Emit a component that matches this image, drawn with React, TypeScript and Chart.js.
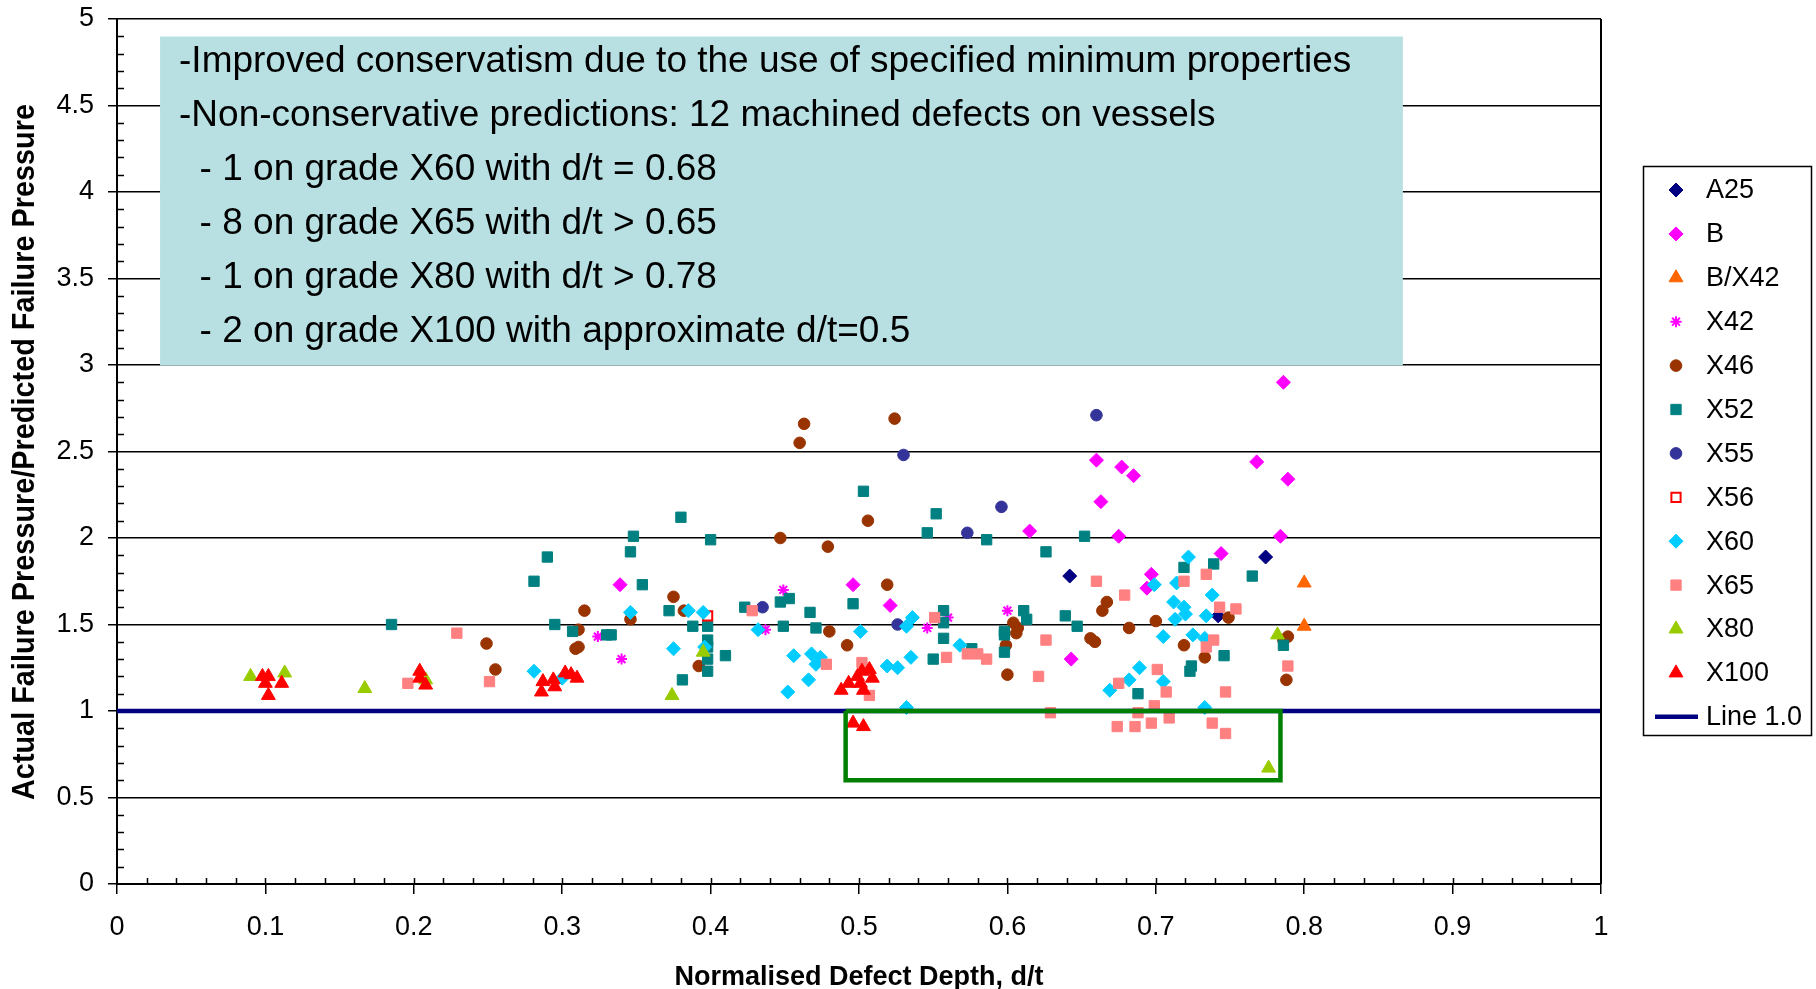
import React, { useEffect, useRef } from 'react';
import { Chart, registerables } from 'chart.js';
import { drawPoint } from 'chart.js/helpers';

Chart.register(...registerables);

const FONT = '"Liberation Sans", Arial, Helvetica, sans-serif';

// ---------- data ----------
const A25: number[][] = [[0.642, 1.78], [0.742, 1.55], [0.774, 1.89]];
const B: number[][] = [
  [0.786, 2.9], [0.66, 2.45], [0.677, 2.41], [0.685, 2.36], [0.768, 2.44], [0.789, 2.34], [0.663, 2.21],
  [0.675, 2.01], [0.784, 2.01], [0.615, 2.04], [0.744, 1.91], [0.697, 1.79], [0.694, 1.71], [0.643, 1.3],
  [0.496, 1.73], [0.521, 1.61], [0.339, 1.73],
];
const B_X42: number[][] = [[0.8, 1.74], [0.8, 1.49]];
const X42: number[][] = [[0.34, 1.3], [0.324, 1.43], [0.437, 1.47], [0.449, 1.7], [0.546, 1.48], [0.56, 1.54], [0.6, 1.58]];
const X46: number[][] = [
  [0.463, 2.66], [0.46, 2.55], [0.524, 2.69], [0.506, 2.1], [0.447, 2.0], [0.479, 1.95], [0.519, 1.73], [0.48, 1.46],
  [0.492, 1.38], [0.249, 1.39], [0.255, 1.24], [0.315, 1.58], [0.375, 1.66], [0.311, 1.47], [0.309, 1.36], [0.311, 1.37],
  [0.346, 1.53], [0.382, 1.58], [0.392, 1.26], [0.604, 1.51], [0.607, 1.48], [0.599, 1.38], [0.6, 1.21], [0.606, 1.45],
  [0.667, 1.63], [0.664, 1.58], [0.656, 1.42], [0.659, 1.4], [0.682, 1.48], [0.7, 1.52], [0.719, 1.38], [0.733, 1.31],
  [0.749, 1.54], [0.789, 1.43], [0.786, 1.41], [0.788, 1.18],
];
const X52: number[][] = [
  [0.185, 1.5], [0.38, 2.12], [0.348, 2.01], [0.4, 1.99], [0.29, 1.89], [0.346, 1.92], [0.281, 1.75], [0.354, 1.73],
  [0.372, 1.58], [0.423, 1.6], [0.447, 1.63], [0.453, 1.65], [0.295, 1.5], [0.307, 1.46], [0.33, 1.44], [0.333, 1.44],
  [0.388, 1.49], [0.398, 1.49], [0.398, 1.41], [0.398, 1.37], [0.398, 1.3], [0.398, 1.23], [0.41, 1.32], [0.381, 1.18],
  [0.449, 1.49], [0.503, 2.27], [0.552, 2.14], [0.546, 2.03], [0.586, 1.99], [0.626, 1.92], [0.467, 1.57], [0.496, 1.62],
  [0.471, 1.48], [0.557, 1.58], [0.557, 1.51], [0.557, 1.42], [0.576, 1.36], [0.55, 1.3], [0.611, 1.58], [0.613, 1.53],
  [0.598, 1.46], [0.598, 1.44], [0.598, 1.34], [0.652, 2.01], [0.719, 1.83], [0.739, 1.85], [0.765, 1.78], [0.639, 1.55],
  [0.647, 1.49], [0.746, 1.32], [0.724, 1.26], [0.723, 1.23], [0.688, 1.1], [0.786, 1.38],
];
const X55: number[][] = [[0.66, 2.71], [0.53, 2.48], [0.596, 2.18], [0.573, 2.03], [0.435, 1.6], [0.526, 1.5]];
const X56: number[][] = [[0.398, 1.55]];
const X60: number[][] = [
  [0.281, 1.23], [0.3, 1.19], [0.346, 1.57], [0.385, 1.58], [0.395, 1.57], [0.375, 1.36], [0.396, 1.37], [0.432, 1.47],
  [0.456, 1.32], [0.452, 1.11], [0.468, 1.33], [0.471, 1.27], [0.474, 1.31], [0.466, 1.18], [0.501, 1.46], [0.519, 1.26],
  [0.526, 1.25], [0.535, 1.31], [0.532, 1.49], [0.536, 1.54], [0.568, 1.38], [0.532, 1.02], [0.722, 1.89], [0.699, 1.73],
  [0.714, 1.74], [0.738, 1.67], [0.712, 1.63], [0.719, 1.6], [0.72, 1.56], [0.713, 1.53], [0.734, 1.55], [0.705, 1.43],
  [0.725, 1.44], [0.733, 1.42], [0.689, 1.25], [0.682, 1.18], [0.669, 1.12], [0.705, 1.17], [0.733, 1.02],
];
const X65: number[][] = [
  [0.229, 1.45], [0.196, 1.16], [0.251, 1.17], [0.428, 1.58], [0.478, 1.27], [0.502, 1.28], [0.507, 1.09], [0.551, 1.54],
  [0.559, 1.31], [0.573, 1.33], [0.58, 1.33], [0.586, 1.3], [0.626, 1.41], [0.621, 1.2], [0.629, 0.99], [0.66, 1.75],
  [0.679, 1.67], [0.719, 1.75], [0.734, 1.79], [0.743, 1.6], [0.754, 1.59], [0.739, 1.41], [0.734, 1.37], [0.701, 1.24],
  [0.675, 1.16], [0.707, 1.11], [0.747, 1.11], [0.789, 1.26], [0.688, 0.99], [0.699, 1.03], [0.709, 0.96], [0.674, 0.91],
  [0.686, 0.91], [0.697, 0.93], [0.738, 0.93], [0.747, 0.87],
];
const X80: number[][] = [[0.09, 1.2], [0.113, 1.22], [0.167, 1.13], [0.208, 1.18], [0.395, 1.34], [0.374, 1.09], [0.782, 1.44], [0.776, 0.67]];
const X100: number[][] = [
  [0.098, 1.2], [0.102, 1.2], [0.1, 1.16], [0.102, 1.09], [0.111, 1.16], [0.204, 1.23], [0.204, 1.19], [0.208, 1.15],
  [0.287, 1.17], [0.286, 1.11], [0.294, 1.18], [0.295, 1.14], [0.302, 1.22], [0.306, 1.21], [0.31, 1.19], [0.488, 1.12],
  [0.493, 1.16], [0.499, 1.2], [0.502, 1.23], [0.507, 1.24], [0.501, 1.16], [0.503, 1.12], [0.509, 1.19], [0.496, 0.93],
  [0.503, 0.91],
];

const LINE_1_X = [0, 1];
const LINE_1_Y = [1, 1];
// highlighted (non-conservative) region
const REGION_X = [0.491, 0.784, 0.784, 0.491, 0.491];
const REGION_Y = [1.0, 1.0, 0.6, 0.6, 1.0];

// annotation box extent (data units)
const NOTE_X = [0.029, 0.8665];
const NOTE_Y = [2.997, 4.899];
const NOTE_LINES = [
  '-Improved conservatism due to the use of specified minimum properties',
  '-Non-conservative predictions: 12 machined defects on vessels',
  '  - 1 on grade X60 with d/t = 0.68',
  '  - 8 on grade X65 with d/t > 0.65',
  '  - 1 on grade X80 with d/t > 0.78',
  '  - 2 on grade X100 with approximate d/t=0.5',
];

const X_TITLE = 'Normalised Defect Depth, d/t';
const Y_TITLE = 'Actual Failure Pressure/Predicted Failure Pressure';

// ---------- styles ----------
type S = { name: string; pts: number[][]; style: string; r: number; fill: string; stroke: string; bw: number };
const SERIES: S[] = [
  { name: 'A25', pts: A25, style: 'rectRot', r: 7, fill: '#000080', stroke: '#000080', bw: 1 },
  { name: 'B', pts: B, style: 'rectRot', r: 7, fill: '#FF00FF', stroke: '#FF00FF', bw: 1 },
  { name: 'B/X42', pts: B_X42, style: 'triangle', r: 8, fill: '#FF6600', stroke: '#FF6600', bw: 1 },
  { name: 'X42', pts: X42, style: 'star', r: 5.5, fill: '#FF00FF', stroke: '#FF00FF', bw: 2 },
  { name: 'X46', pts: X46, style: 'circle', r: 5.8, fill: '#993300', stroke: '#993300', bw: 1 },
  { name: 'X52', pts: X52, style: 'rect', r: 7.3, fill: '#008080', stroke: '#008080', bw: 1 },
  { name: 'X55', pts: X55, style: 'circle', r: 5.8, fill: '#333399', stroke: '#333399', bw: 1 },
  { name: 'X56', pts: X56, style: 'rect', r: 6.5, fill: '#FFFFFF', stroke: '#FF0000', bw: 2 },
  { name: 'X60', pts: X60, style: 'rectRot', r: 7, fill: '#00CCFF', stroke: '#00CCFF', bw: 1 },
  { name: 'X65', pts: X65, style: 'rect', r: 7.3, fill: '#FF8080', stroke: '#FF8080', bw: 1 },
  { name: 'X80', pts: X80, style: 'triangle', r: 8, fill: '#99CC00', stroke: '#99CC00', bw: 1 },
  { name: 'X100', pts: X100, style: 'triangle', r: 8, fill: '#FF0000', stroke: '#FF0000', bw: 1 },
];

const fmt = (v: any) => String(+Number(v).toFixed(1));

const overlay = {
  id: 'overlay',
  beforeDatasetsDraw(chart: any) {
    const { ctx, scales } = chart;
    const xs = scales.x, ys = scales.y;
    const l = xs.getPixelForValue(NOTE_X[0]);
    const r = xs.getPixelForValue(NOTE_X[1]);
    const t = ys.getPixelForValue(NOTE_Y[1]);
    const b = ys.getPixelForValue(NOTE_Y[0]);
    ctx.save();
    ctx.fillStyle = '#B8E0E3';
    ctx.fillRect(l, t, r - l, b - t);
    ctx.fillStyle = '#000';
    ctx.font = `37px ${FONT}`;
    ctx.textBaseline = 'middle';
    ctx.textAlign = 'left';
    NOTE_LINES.forEach((s, i) => ctx.fillText(s, l + 19, t + 25 + i * 54));
    ctx.restore();
  },
  afterDraw(chart: any) {
    const { ctx, chartArea, scales } = chart;
    const xs = scales.x, ys = scales.y;
    ctx.save();
    ctx.strokeStyle = '#000';
    // right border
    ctx.lineWidth = 2;
    ctx.beginPath();
    ctx.moveTo(chartArea.right, chartArea.top);
    ctx.lineTo(chartArea.right, chartArea.bottom);
    ctx.stroke();
    // minor ticks
    ctx.lineWidth = 1.5;
    ctx.beginPath();
    for (let i = 1; i < 50; i++) {
      if (i % 5 === 0) continue;
      const py = Math.round(ys.getPixelForValue(i / 10)) + 0.5;
      ctx.moveTo(chartArea.left, py);
      ctx.lineTo(chartArea.left + 7, py);
    }
    for (let i = 1; i < 50; i++) {
      const px = Math.round(xs.getPixelForValue(i / 50)) + 0.5;
      ctx.moveTo(px, chartArea.bottom);
      ctx.lineTo(px, chartArea.bottom - 6);
    }
    ctx.stroke();

    // axis titles
    ctx.fillStyle = '#000';
    ctx.textAlign = 'center';
    ctx.textBaseline = 'middle';
    ctx.font = `bold 27px ${FONT}`;
    ctx.fillText(X_TITLE, (chartArea.left + chartArea.right) / 2, 978);
    ctx.save();
    ctx.translate(25, 452);
    ctx.rotate(-Math.PI / 2);
    ctx.font = `bold 31px ${FONT}`;
    const w = ctx.measureText(Y_TITLE).width;
    ctx.scale(696 / w, 1);
    ctx.fillText(Y_TITLE, 0, 0);
    ctx.restore();

    // legend
    const lx = 1643, ly = 166, lw = 168, lh = 569;
    ctx.fillStyle = '#fff';
    ctx.fillRect(lx, ly, lw, lh);
    ctx.lineWidth = 1.5;
    ctx.strokeStyle = '#000';
    ctx.strokeRect(lx + 0.5, ly + 0.5, lw, lh);
    ctx.font = `27px ${FONT}`;
    ctx.textAlign = 'left';
    const step = 43.9;
    SERIES.forEach((s, i) => {
      const cy = 190 + i * step;
      ctx.fillStyle = s.fill;
      ctx.strokeStyle = s.stroke;
      ctx.lineWidth = s.bw;
      drawPoint(ctx, { pointStyle: s.style as any, radius: s.r, borderWidth: s.bw, rotation: 0 }, 1676, cy);
      ctx.fillStyle = '#000';
      ctx.fillText(s.name, 1706, cy + 1);
    });
    const cy = 190 + SERIES.length * step;
    ctx.strokeStyle = '#000080';
    ctx.lineWidth = 4.5;
    ctx.beginPath();
    ctx.moveTo(1655, cy);
    ctx.lineTo(1698, cy);
    ctx.stroke();
    ctx.fillStyle = '#000';
    ctx.fillText('Line 1.0', 1706, cy + 1);
    ctx.restore();
  },
};

export default function App() {
  const ref = useRef<HTMLCanvasElement | null>(null);
  useEffect(() => {
    if (!ref.current) return;
    const N = SERIES.length;
    const datasets: any[] = SERIES.map((s, i) => ({
      label: s.name,
      data: s.pts.map(([x, y]) => ({ x, y })),
      pointStyle: s.style,
      pointRadius: s.r,
      pointBackgroundColor: s.fill,
      pointBorderColor: s.stroke,
      pointBorderWidth: s.bw,
      showLine: false,
      order: 10 + N - i,
    }));
    datasets.push({
      label: 'Line 1.0',
      data: LINE_1_X.map((x, i) => ({ x, y: LINE_1_Y[i] })),
      showLine: true,
      borderColor: '#000080',
      borderWidth: 4.5,
      pointRadius: 0,
      fill: false,
      order: 2,
    });
    datasets.push({
      label: 'region',
      data: REGION_X.map((x, i) => ({ x, y: REGION_Y[i] })),
      showLine: true,
      borderColor: '#008000',
      borderWidth: 4.5,
      borderJoinStyle: 'miter',
      pointRadius: 0,
      fill: false,
      order: 1,
    });
    const chart = new Chart(ref.current, {
      type: 'scatter',
      data: { datasets },
      options: {
        animation: false,
        responsive: false,
        devicePixelRatio: 1,
        layout: { padding: { left: 0, right: 215, top: 19, bottom: 0 } },
        plugins: { legend: { display: false }, tooltip: { enabled: false } },
        scales: {
          x: {
            type: 'linear',
            min: 0,
            max: 1,
            ticks: {
              stepSize: 0.1,
              autoSkip: false,
              maxRotation: 0,
              color: '#000',
              padding: 17,
              font: { family: FONT, size: 27 },
              callback: (v: any) => fmt(v),
            },
            grid: { drawOnChartArea: false, drawTicks: true, tickLength: 10, color: '#000', lineWidth: 1.5 },
            border: { color: '#000', width: 2 },
            afterFit: (s: any) => { s.height = 105; s.paddingLeft = 0; s.paddingRight = 0; },
          },
          y: {
            type: 'linear',
            min: 0,
            max: 5,
            ticks: {
              stepSize: 0.5,
              color: '#000',
              padding: 14,
              font: { family: FONT, size: 27 },
              callback: (v: any) => fmt(v),
            },
            grid: { color: '#000', lineWidth: 1.5, tickLength: 9 },
            border: { color: '#000', width: 2 },
            afterFit: (s: any) => { s.width = 117; s.paddingTop = 0; s.paddingBottom = 0; },
          },
        },
      },
      plugins: [overlay],
    });
    return () => chart.destroy();
  }, []);
  return (
    <div style={{ position: 'absolute', left: 0, top: 0, width: 1816, height: 989, background: '#fff' }}>
      <canvas ref={ref} width={1816} height={989} style={{ display: 'block' }} />
    </div>
  );
}
